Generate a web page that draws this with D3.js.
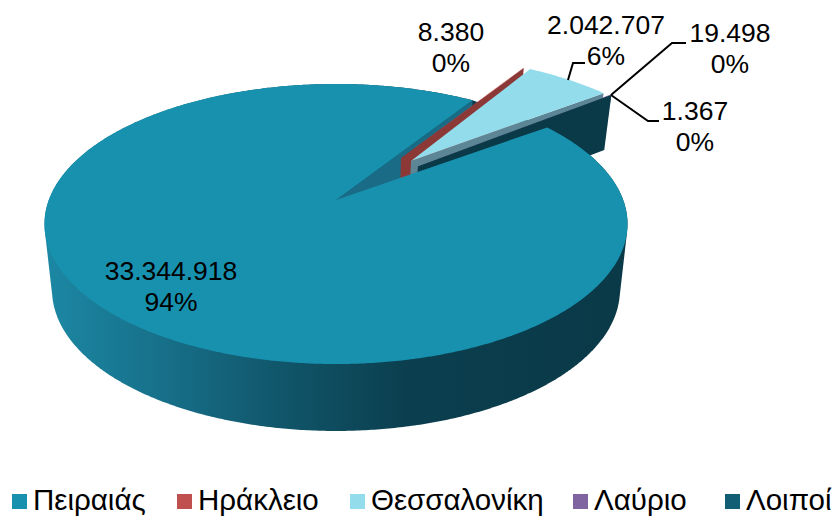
<!DOCTYPE html>
<html>
<head>
<meta charset="utf-8">
<script src="https://cdn.jsdelivr.net/npm/d3@7"></script>
<style>
html, body { margin: 0; padding: 0; background: #fff; overflow: hidden; }
text { font-family: "Liberation Sans", Arial, sans-serif; fill: #000; }
</style>
</head>
<body>
<svg width="837" height="516"></svg>
<script>
const categories = ["Πειραιάς", "Ηράκλειο", "Θεσσαλονίκη", "Λαύριο", "Λοιποί"];
const values = [33344918, 8380, 2042707, 19498, 1367];

// colours of the flat top, and of the cut faces
const topColors = ["#1891af", "#c0504d", "#93dcec", "#8064a2", "#125f75"];
const wallColors = ["#1a6b85", "#8b3836", "#5c8595", "#4b3a60", "#0a3947"];

// how far each slice is pulled out (disc units), and the small fixes it needs
const pulled = [
  {off: [0, 0], r: 1, turn: 0, lift: 0},
  {off: [0.239, -0.326], r: 1, turn: 0, lift: 0},
  {off: [0.2747, -0.3018], r: 1.006, turn: -0.9, lift: 25},
  {off: [0.298, -0.2582], r: 1.026, turn: -2.1, lift: 25},
  {off: [0.298, -0.2582], r: 1.026, turn: -2.1, lift: 10}
];

const svg = d3.select("svg");
const rad = Math.PI / 180;

// tilted disc: top plane and the plane of the underside
const cx = 336, cy = 200, k = 287.2, m = 135.9, p = 0.1714;
const lowY = 265.8, lowSx = 0.974, lowSy = 1.007;

function project(u, v, low) {
  const d = 1 - p * v;
  return low
    ? [cx + lowSx * k * u / d, lowY + lowSy * m * v / d]
    : [cx + k * u / d, cy + m * v / d];
}

function rimPoint(i, deg, low) {
  const s = pulled[i], a = (deg + s.turn) * rad;
  const pt = project(s.off[0] + s.r * Math.sin(a), s.off[1] - s.r * Math.cos(a), low);
  return low ? [pt[0], pt[1] - s.lift] : pt;
}
function hubPoint(i, low) {
  const pt = project(pulled[i].off[0], pulled[i].off[1], low);
  return low ? [pt[0], pt[1] - pulled[i].lift] : pt;
}

const line = d3.line();
const pie = d3.pie().sort(null).startAngle(54 * rad).endAngle((54 + 360) * rad);
const slices = pie(values).map(d => ({
  index: d.index,
  from: d.startAngle / rad,
  to: d.endAngle / rad
}));

function arcAngles(s) {
  const n = Math.max(2, Math.ceil((s.to - s.from) * 2));
  return d3.range(n + 1).map(j => s.from + (s.to - s.from) * j / n);
}
function topPath(s) {
  const rim = arcAngles(s).map(a => rimPoint(s.index, a, false));
  return line([hubPoint(s.index, false), ...rim]) + "Z";
}
function cutPath(i, deg) {
  return line([hubPoint(i, false), rimPoint(i, deg, false), rimPoint(i, deg, true), hubPoint(i, true)]) + "Z";
}
// whole outline of the drum, the top hides what is not the side
function outerPath(s) {
  const a = arcAngles(s);
  const upper = a.map(d => rimPoint(s.index, d, false));
  const lower = a.map(d => rimPoint(s.index, d, true));
  return line(d3.polygonHull([...upper, ...lower])) + "Z";
}

const defs = svg.append("defs");
const grad = defs.append("linearGradient")
  .attr("id", "sideShade")
  .attr("gradientUnits", "userSpaceOnUse")
  .attr("x1", 44).attr("x2", 627).attr("y1", 0).attr("y2", 0);
[[0, "#1c88a4"], [0.2, "#17708a"], [0.42, "#105468"], [0.62, "#0b3f4f"], [1, "#0a3947"]].forEach(st => {
  grad.append("stop").attr("offset", st[0]).attr("stop-color", st[1]);
});

const pies = svg.append("g");
const [main, red, blue, lav, rest] = slices;

// painted back to front
pies.append("path").attr("d", outerPath(main)).attr("fill", "url(#sideShade)");
pies.append("path").attr("d", cutPath(0, main.to)).attr("fill", wallColors[0]);
pies.append("path").attr("d", cutPath(1, red.to)).attr("fill", wallColors[1]);
pies.append("path").attr("d", topPath(red)).attr("fill", topColors[1]);
pies.append("path").attr("d", topPath(lav)).attr("fill", topColors[3]);
pies.append("path").attr("d", cutPath(2, blue.to)).attr("fill", wallColors[2]);
pies.append("path").attr("d", topPath(blue)).attr("fill", topColors[2]);
pies.append("path").attr("d", cutPath(3, lav.to)).attr("fill", wallColors[3]);
pies.append("path").attr("d", cutPath(4, rest.to)).attr("fill", wallColors[4]);
pies.append("path").attr("d", topPath(rest)).attr("fill", topColors[4]);
pies.append("path").attr("d", topPath(main)).attr("fill", topColors[0]);

// labels
const total = d3.sum(values);
const fmtValue = d3.formatLocale({decimal: ",", thousands: ".", grouping: [3], currency: ["", ""]}).format(",d");
const fmtShare = d3.format(".0%");

const labelSpots = [[171, 280], [451, 41], [606, 34], [730, 42], [695, 120]];
const labels = svg.append("g").attr("font-size", 26.5).attr("text-anchor", "middle");
values.forEach((v, i) => {
  const t = labels.append("text").attr("x", labelSpots[i][0]).attr("y", labelSpots[i][1]);
  t.append("tspan").attr("x", labelSpots[i][0]).text(fmtValue(v));
  t.append("tspan").attr("x", labelSpots[i][0]).attr("dy", 31).text(fmtShare(v / total));
});

// leader lines
const leaders = [
  [[568, 80], [573, 63], [585, 63]],
  [[611, 95], [672, 43], [686, 43]],
  [[611, 95], [648, 121], [659, 121]]
];
svg.append("g").selectAll("path").data(leaders).join("path")
  .attr("d", line).attr("fill", "none").attr("stroke", "#000").attr("stroke-width", 2);

// legend
const legendX = [12, 177, 350, 573, 725];
const legend = svg.append("g").selectAll("g").data(categories).join("g")
  .attr("transform", (d, i) => `translate(${legendX[i]},494)`);
legend.append("rect").attr("width", 15).attr("height", 15).attr("fill", (d, i) => topColors[i]);
legend.append("text").attr("x", 21).attr("y", 16).attr("font-size", 29.5).text(d => d);
</script>
</body>
</html>
